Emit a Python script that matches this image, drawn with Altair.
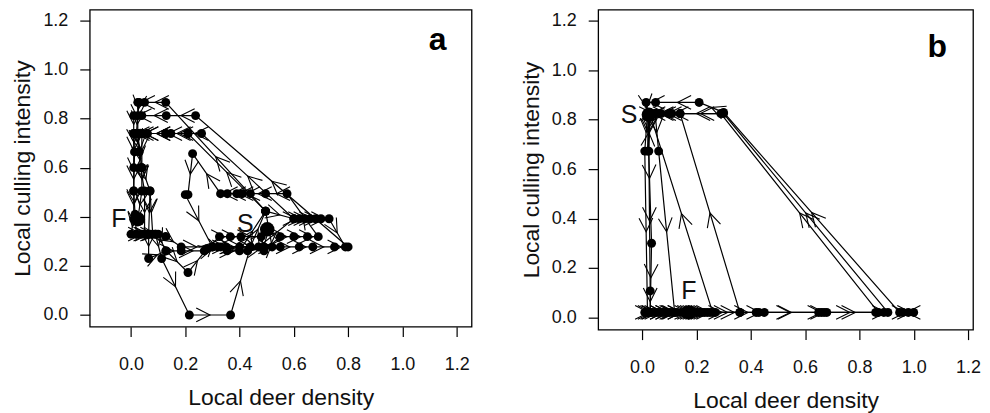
import altair as alt
import pandas as pd
import numpy as np

# ---------------- Panel a trajectories (deer density x, culling intensity y) ----------------
A1_x = [0.02, 0.06, 0.128, 0.185, 0.30, 0.40, 0.49, 0.55, 0.62, 0.67, 0.75, 0.80, 0.238, 0.13, 0.04, 0.01, 0.01, 0.013, 0.01, 0.015, 0.02]
A1_y = [0.329, 0.329, 0.32, 0.277, 0.277, 0.277, 0.277, 0.277, 0.277, 0.277, 0.277, 0.277, 0.812, 0.812, 0.812, 0.812, 0.739, 0.664, 0.505, 0.41, 0.329]

A2_x = [0.04, 0.09, 0.113, 0.215, 0.367, 0.44, 0.49, 0.55, 0.60, 0.65, 0.69, 0.575, 0.496, 0.44, 0.41, 0.39, 0.355, 0.33, 0.227, 0.21, 0.20, 0.30, 0.354, 0.40, 0.496, 0.128, 0.05, 0.025, 0.025, 0.04, 0.04, 0.025]
A2_y = [0.329, 0.329, 0.23, 0.0, 0.0, 0.277, 0.261, 0.319, 0.319, 0.319, 0.319, 0.494, 0.494, 0.494, 0.494, 0.494, 0.494, 0.494, 0.657, 0.49, 0.49, 0.277, 0.261, 0.261, 0.423, 0.866, 0.866, 0.866, 0.739, 0.6, 0.505, 0.39]

A3_x = [0.07, 0.065, 0.065, 0.13, 0.21, 0.28, 0.326, 0.366, 0.405, 0.48, 0.502]
A3_y = [0.505, 0.329, 0.23, 0.261, 0.173, 0.27, 0.319, 0.319, 0.319, 0.319, 0.349]

A4_x = [0.496, 0.60, 0.62, 0.64, 0.66, 0.68, 0.70, 0.73, 0.79]
A4_y = [0.423, 0.392, 0.392, 0.392, 0.392, 0.392, 0.392, 0.392, 0.277]

A5_x = [0.35, 0.47, 0.60, 0.26, 0.21, 0.147, 0.128, 0.06, 0.04, 0.025, 0.01, 0.01, 0.01, 0.01, 0.0]
A5_y = [0.277, 0.277, 0.392, 0.739, 0.739, 0.739, 0.739, 0.739, 0.739, 0.739, 0.739, 0.6, 0.505, 0.39, 0.329]

A6_x = [0.32, 0.44, 0.496, 0.21, 0.128, 0.06, 0.04, 0.04, 0.07, 0.08, 0.09]
A6_y = [0.277, 0.277, 0.423, 0.739, 0.739, 0.739, 0.739, 0.6, 0.505, 0.329, 0.329]

A7_x = [0.03, 0.025, 0.02, 0.03, 0.035, 0.05, 0.05, 0.07, 0.10, 0.128, 0.185, 0.27, 0.33, 0.43, 0.52, 0.496]
A7_y = [0.866, 0.812, 0.739, 0.664, 0.6, 0.505, 0.329, 0.329, 0.329, 0.261, 0.261, 0.261, 0.277, 0.261, 0.277, 0.423]

A_MARK_x = [0.025, 0.502]   # F, S
A_MARK_y = [0.39, 0.349]
A_MARK_lab = ["F", "S"]
A_LAB_x = [-0.045, 0.421]
A_LAB_y = [0.391, 0.371]

# ---------------- Panel b trajectories ----------------
B1_x = [0.03, 0.06, 0.10, 0.15, 0.21, 0.27, 0.36, 0.14, 0.10, 0.03, 0.025, 0.03, 0.03]
B1_y = [0.02, 0.02, 0.02, 0.02, 0.02, 0.02, 0.02, 0.825, 0.825, 0.825, 0.673, 0.107, 0.02]

B2_x = [0.02, 0.08, 0.12, 0.17, 0.23, 0.36, 0.42, 0.45, 0.65, 0.67, 0.86, 0.87, 0.29, 0.14, 0.05, 0.02, 0.01, 0.02]
B2_y = [0.02, 0.02, 0.02, 0.02, 0.02, 0.02, 0.02, 0.02, 0.02, 0.02, 0.02, 0.02, 0.825, 0.825, 0.825, 0.825, 0.673, 0.02]

B3_x = [0.01, 0.04, 0.19, 0.25, 0.43, 0.66, 0.68, 0.89, 0.905, 0.30, 0.10, 0.048, 0.061, 0.12]
B3_y = [0.02, 0.02, 0.02, 0.02, 0.02, 0.02, 0.02, 0.02, 0.02, 0.825, 0.825, 0.825, 0.673, 0.02]

B4_x = [0.96, 0.98, 1.0, 0.948, 0.30, 0.21, 0.05, 0.015, 0.02, 0.035, 0.03]
B4_y = [0.02, 0.02, 0.02, 0.02, 0.83, 0.87, 0.87, 0.87, 0.825, 0.30, 0.02]

B5_x = [0.02, 0.05, 0.07, 0.09, 0.11, 0.13, 0.16, 0.18, 0.20, 0.22, 0.24, 0.26, 0.03, 0.025, 0.02, 0.03, 0.05, 0.07, 0.11]
B5_y = [0.02, 0.02, 0.02, 0.02, 0.02, 0.02, 0.02, 0.02, 0.02, 0.02, 0.02, 0.02, 0.82, 0.82, 0.673, 0.825, 0.825, 0.825, 0.825]

B_MARK_x = [0.025, 0.172]   # S, F
B_MARK_y = [0.82, 0.02]
B_LAB = ["S", "F"]
B_LAB_x = [-0.048, 0.172]
B_LAB_y = [0.818, 0.108]

TICKS = [0.0, 0.2, 0.4, 0.6, 0.8, 1.0, 1.2]

FONT = "Liberation Sans"
CHEV = "M-1,-0.5L0,0L-1,0.5"


def build(trajs, sx, sy):
    rows, chev = [], []
    for ti, (xs, ys) in enumerate(trajs):
        for i, (x, y) in enumerate(zip(xs, ys)):
            rows.append({"traj": ti, "step": i, "x": x, "y": y})
        for i in range(len(xs) - 1):
            dx = (xs[i + 1] - xs[i]) * sx
            dy = -(ys[i + 1] - ys[i]) * sy
            if np.hypot(dx, dy) < 4:
                continue
            ang = (np.degrees(np.arctan2(dy, dx)) + 360) % 360
            chev.append({"x": (xs[i] + xs[i + 1]) / 2, "y": (ys[i] + ys[i + 1]) / 2, "ang": ang})
    return pd.DataFrame(rows), pd.DataFrame(chev)


def panel(trajs, marks, labs, xdom, ydom, w, h, letter, letter_pos):
    sx = w / (xdom[1] - xdom[0])
    sy = h / (ydom[1] - ydom[0])
    pts, chev = build(trajs, sx, sy)
    xax = alt.Axis(values=TICKS, format=".1f", tickSize=10, tickColor="black", tickWidth=1.2,
                   labelFontSize=18, labelPadding=19, labelFont=FONT, labelColor="#111",
                   labelFlush=False, labelOverlap=False, grid=False, domain=False,
                   title="Local deer density", titleFont=FONT, titleFontSize=23,
                   titleFontWeight="normal", titleColor="#111", titlePadding=13)
    yax = alt.Axis(values=TICKS, format=".1f", tickSize=10, tickColor="black", tickWidth=1.2,
                   labelFontSize=18, labelPadding=12, labelFont=FONT, labelColor="#111",
                   labelFlush=False, labelOverlap=False, grid=False, domain=False,
                   title="Local culling intensity", titleFont=FONT, titleFontSize=23,
                   titleFontWeight="normal", titleColor="#111", titlePadding=8)
    X = alt.X("x:Q", scale=alt.Scale(domain=xdom, nice=False, zero=False), axis=xax)
    Y = alt.Y("y:Q", scale=alt.Scale(domain=ydom, nice=False, zero=False), axis=yax)
    Xn = alt.X("x:Q", scale=alt.Scale(domain=xdom, nice=False, zero=False))
    Yn = alt.Y("y:Q", scale=alt.Scale(domain=ydom, nice=False, zero=False))

    lines = alt.Chart(pts).mark_line(color="black", strokeWidth=1.2).encode(
        x=X, y=Y, detail="traj:N", order="step:Q")
    dots = alt.Chart(pts).mark_circle(size=80, color="black", opacity=1).encode(x=Xn, y=Yn)
    arrows = alt.Chart(chev).mark_point(shape=CHEV, size=760, filled=False, color="black",
                                        strokeWidth=1.1, opacity=1).encode(
        x=Xn, y=Yn, angle=alt.Angle("ang:Q", scale=None))
    mk = pd.DataFrame({"x": marks[0], "y": marks[1]})
    big = alt.Chart(mk).mark_circle(size=210, color="black", opacity=1).encode(x=Xn, y=Yn)
    lb = pd.DataFrame({"x": labs[0], "y": labs[1], "t": labs[2]})
    txt = alt.Chart(lb).mark_text(font=FONT, fontSize=25, color="#111", align="center",
                                  baseline="middle").encode(x=Xn, y=Yn, text="t:N")
    let = alt.Chart(pd.DataFrame({"t": [letter]})).mark_text(
        font=FONT, fontSize=32, fontWeight="bold", color="black", align="center",
        baseline="middle").encode(x=alt.value(letter_pos[0]), y=alt.value(letter_pos[1]), text="t:N")
    return alt.layer(lines, arrows, dots, big, txt, let).properties(width=w, height=h)


pa = panel([(A1_x, A1_y), (A2_x, A2_y), (A3_x, A3_y), (A4_x, A4_y), (A5_x, A5_y), (A6_x, A6_y), (A7_x, A7_y)],
           (A_MARK_x, A_MARK_y), (A_LAB_x, A_LAB_y, A_MARK_lab),
           [-0.152, 1.255], [-0.0475, 1.2436], 383, 318, "a", (349, 31))
pb = panel([(B1_x, B1_y), (B2_x, B2_y), (B3_x, B3_y), (B4_x, B4_y), (B5_x, B5_y)],
           (B_MARK_x, B_MARK_y), (B_LAB_x, B_LAB_y, B_LAB),
           [-0.1615, 1.2183], [-0.0496, 1.2458], 376, 321, "b", (340, 38))

chart = alt.hconcat(pa, pb, spacing=47).properties(
    padding={"left": 3, "top": 0, "right": 0, "bottom": 0},
    background="white",
).configure_view(stroke="black", strokeWidth=1.3)

chart.save("out.html", embed_options={"renderer": "svg", "actions": False})
